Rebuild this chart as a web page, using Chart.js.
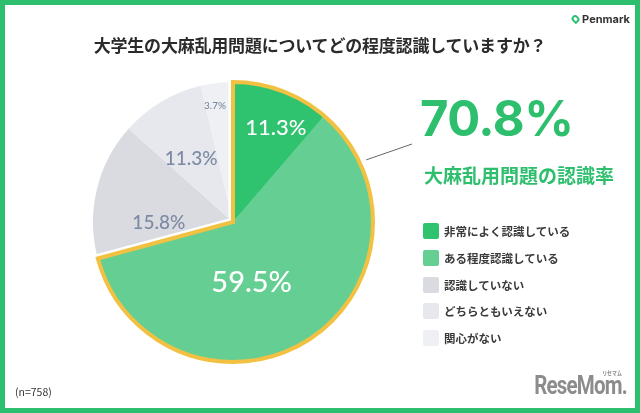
<!DOCTYPE html>
<html lang="ja">
<head>
<meta charset="utf-8">
<script src="https://cdn.jsdelivr.net/npm/chart.js@4.4.1/dist/chart.umd.min.js"></script>
<style>
  html, body { margin: 0; padding: 0; background: #fff; }
  #frame { position: relative; width: 640px; height: 413px; box-sizing: border-box; border: 5px solid #2DBF6D; overflow: hidden; background: #fff; font-family: "Noto Sans CJK JP", "Noto Sans", sans-serif; }
  #cv { position: absolute; left: -5px; top: -5px; }
  .abs { position: absolute; white-space: nowrap; }
  #title { left: 0; width: 630px; top: 27px; text-align: center; font-size: 17px; font-weight: 700; color: #2B2B2B; letter-spacing: -0.2px; }
  #penmark { right: 5px; top: 7px; font-family: Inter, "Noto Sans", sans-serif; font-size: 11px; font-weight: 700; color: #333; display: flex; align-items: center; gap: 3px; }
  #penmark .pin { width: 7px; height: 8px; border: 2px solid #2DBF6D; border-radius: 5px 5px 5px 1px; box-sizing: border-box; transform: rotate(-45deg); }
  #big { left: 415px; top: 84px; font-family: Inter, "Noto Sans", sans-serif; font-size: 49px; font-weight: 700; color: #2DBF6D; letter-spacing: -0.5px; }
  #sub { left: 419px; top: 156px; font-size: 19px; font-weight: 700; color: #2DBF6D; letter-spacing: 0px; }
  #legend { left: 418px; top: 213px; }
  .row { display: flex; align-items: center; height: 26.7px; }
  .sw { width: 16px; height: 16px; border-radius: 2px; margin-right: 5px; }
  .lt { font-size: 11.5px; font-weight: 700; color: #3A3A3A; }
  #n { left: 10px; top: 379px; font-size: 10.5px; color: #333; }
  #logo { right: 8px; top: 366px; font-family: "Liberation Sans Narrow", "Roboto", sans-serif; font-size: 25px; font-weight: 700; color: #8C8C8C; letter-spacing: -1px; transform: scaleX(0.82); transform-origin: right center; }
  #logo small { position: absolute; right: 6px; top: -3px; font-size: 6px; letter-spacing: 0; font-family: "Noto Sans CJK JP"; }
</style>
</head>
<body>
<div id="frame">
  <canvas id="cv" width="640" height="413"></canvas>
  <div id="title" class="abs">大学生の大麻乱用問題についてどの程度認識していますか？</div>
  <div id="penmark" class="abs"><span class="pin"></span>Penmark</div>
  <div id="big" class="abs">70.8%</div>
  <div id="sub" class="abs">大麻乱用問題の認識率</div>
  <div id="legend" class="abs"></div>
  <div id="n" class="abs">(n=758)</div>
  <div id="logo" class="abs">ReseMom.<small>リセマム</small></div>
</div>
<script>
// ---- data ----
const categories = ['非常によく認識している', 'ある程度認識している', '認識していない', 'どちらともいえない', '関心がない'];
const values = [11.3, 59.5, 15.8, 9.7, 3.7];
const valueLabels = ['11.3%', '59.5%', '15.8%', '11.3%', '3.7%'];
const highlightLabel = '70.8%';

// ---- styles ----
const colors = ['#2FC370', '#65CF93', '#D9DBE0', '#E6E8ED', '#EFF0F4'];
const labelColors = ['#FFFFFF', '#FFFFFF', '#7D8AA3', '#7D8AA3', '#7D8AA3'];
const labelFonts = [22, 29, 19, 19, 10];
const labelRadius = [0.74, 0.45, 0.53, 0.54, 0.84];
const labelAngle = [0.6, 0.57, 0.26, 0.42, 0.34];

// legend (HTML, from data)
const lg = document.getElementById('legend');
categories.forEach((c, i) => {
  const r = document.createElement('div'); r.className = 'row';
  const s = document.createElement('div'); s.className = 'sw'; s.style.background = colors[i];
  const t = document.createElement('div'); t.className = 'lt'; t.textContent = c;
  r.appendChild(s); r.appendChild(t); lg.appendChild(r);
});
document.getElementById('big').textContent = highlightLabel;

const outlinePlugin = {
  id: 'outline',
  afterDatasetsDraw(chart) {
    const ctx = chart.ctx;
    const meta = chart.getDatasetMeta(0);
    const a0 = meta.data[0], a1 = meta.data[1];
    const p0 = a0.getProps(['x', 'y', 'startAngle', 'outerRadius'], true);
    const p1 = a1.getProps(['endAngle'], true);
    ctx.save();
    ctx.lineJoin = 'miter';
    ctx.beginPath();
    ctx.moveTo(p0.x, p0.y);
    ctx.arc(p0.x, p0.y, p0.outerRadius, p0.startAngle, p1.endAngle);
    ctx.closePath();
    ctx.strokeStyle = '#FFFFFF';
    ctx.lineWidth = 9;
    ctx.stroke();
    ctx.restore();
    a0.draw(ctx); a1.draw(ctx);
    ctx.save();
    ctx.lineJoin = 'miter';
    ctx.beginPath();
    ctx.moveTo(p0.x, p0.y);
    ctx.arc(p0.x, p0.y, p0.outerRadius, p0.startAngle, p1.endAngle);
    ctx.closePath();
    ctx.strokeStyle = '#F2C142';
    ctx.lineWidth = 4;
    ctx.stroke();
    ctx.restore();

    // value labels
    meta.data.forEach((arc, i) => {
      const p = arc.getProps(['x', 'y', 'startAngle', 'endAngle', 'outerRadius'], true);
      const ang = p.startAngle + (p.endAngle - p.startAngle) * labelAngle[i];
      const r = p.outerRadius * labelRadius[i];
      ctx.save();
      ctx.font = '500 ' + labelFonts[i] + 'px Lato, "Noto Sans", sans-serif';
      ctx.fillStyle = labelColors[i];
      ctx.textAlign = 'center';
      ctx.textBaseline = 'middle';
      ctx.fillText(valueLabels[i], p.x + Math.cos(ang) * r, p.y + Math.sin(ang) * r);
      ctx.restore();
    });

    // connector line
    const la = p0.startAngle + (p1.endAngle - p0.startAngle) * 0.255;
    ctx.save();
    ctx.strokeStyle = '#666';
    ctx.lineWidth = 1;
    ctx.beginPath();
    ctx.moveTo(p0.x + Math.cos(la) * (p0.outerRadius + 7), p0.y + Math.sin(la) * (p0.outerRadius + 7));
    ctx.lineTo(412, 144);
    ctx.stroke();
    ctx.restore();
  }
};

new Chart(document.getElementById('cv'), {
  type: 'pie',
  data: {
    labels: categories,
    datasets: [{
      data: values,
      backgroundColor: colors,
      borderWidth: 0,
      hoverOffset: 0
    }]
  },
  options: {
    responsive: false,
    animation: false,
    radius: 140,
    layout: { padding: { left: 93, right: 267, top: 82, bottom: 51 } },
    plugins: { legend: { display: false }, tooltip: { enabled: false } }
  },
  plugins: [outlinePlugin]
});
</script>
</body>
</html>
